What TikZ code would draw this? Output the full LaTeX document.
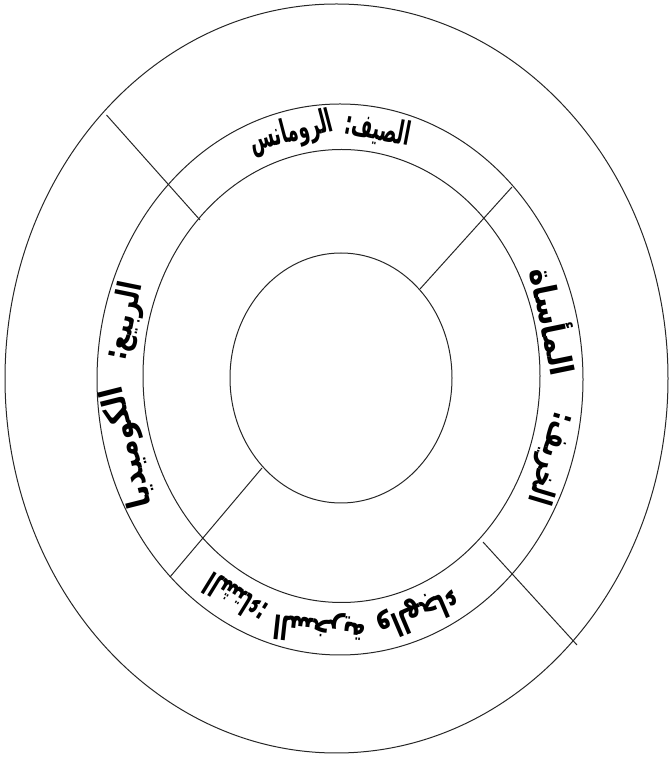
\documentclass[tikz,border=0pt]{standalone}
\usepackage{fontspec}
\usepackage{graphicx}
\newfontfamily\arabicfont[Script=Arabic]{DejaVu Sans}
\TeXXeTstate=1
\usetikzlibrary{calc}
% #1 name, #2 angle on the text band, #3 horizontal scale, #4 word
\newcommand\seasonword[4]{%
  \node[season, rotate={atan2(-251*cos(#2),220.75*sin(#2))}] (#1)
    at ($(340.7,380.2)+({220.75*cos(#2)},{251*sin(#2)})$)
    {\scalebox{#3}[1.25]{\beginR #4\endR}};}
\begin{document}
\begin{tikzpicture}[x=1pt,y=1pt,
  ring/.style={draw=black!85, line width=1pt},
  spoke/.style={draw=black!85, line width=1pt},
  season/.style={font=\arabicfont\bfseries\fontsize{26}{26}\selectfont, inner sep=0pt}]
\useasboundingbox (0,0) rectangle (670,758);
% rings
\draw[ring] (336.5,379.5) ellipse [x radius=331.5, y radius=374.5];
\draw[ring] (340,378.5) ellipse [x radius=243, y radius=275.5];
\draw[ring] (341.5,382) ellipse [x radius=198.5, y radius=226.5];
\draw[ring] (341,380) ellipse [x radius=111, y radius=125];
% spoke end points
\coordinate (ulA) at (106.5,643);
\coordinate (ulB) at (200,538);
\coordinate (urA) at (512,571);
\coordinate (urB) at (420,469);
\coordinate (llA) at (262,290);
\coordinate (llB) at (170,181);
\coordinate (lrA) at (483,216);
\coordinate (lrB) at (577,113);
\draw[spoke] (ulA) -- (ulB);
\draw[spoke] (urA) -- (urB);
\draw[spoke] (llA) -- (llB);
\draw[spoke] (lrA) -- (lrB);
% texts
\seasonword{sumA}{80.4}{0.69}{الصيف:}
\seasonword{sumB}{102.9}{0.69}{الرومانس}
\seasonword{autA}{13.1}{1.14}{المأساة}
\seasonword{autB}{-18.7}{0.9}{الخريف:}
\seasonword{sprA}{167}{0.95}{الربيع:}
\seasonword{sprB}{196}{1.12}{الكوميديا}
\seasonword{winA}{241.5}{0.75}{الشتاء:}
\seasonword{winB}{264.5}{0.88}{السخرية}
\seasonword{winC}{290.5}{0.9}{والهجاء}
\end{tikzpicture}
\end{document}
